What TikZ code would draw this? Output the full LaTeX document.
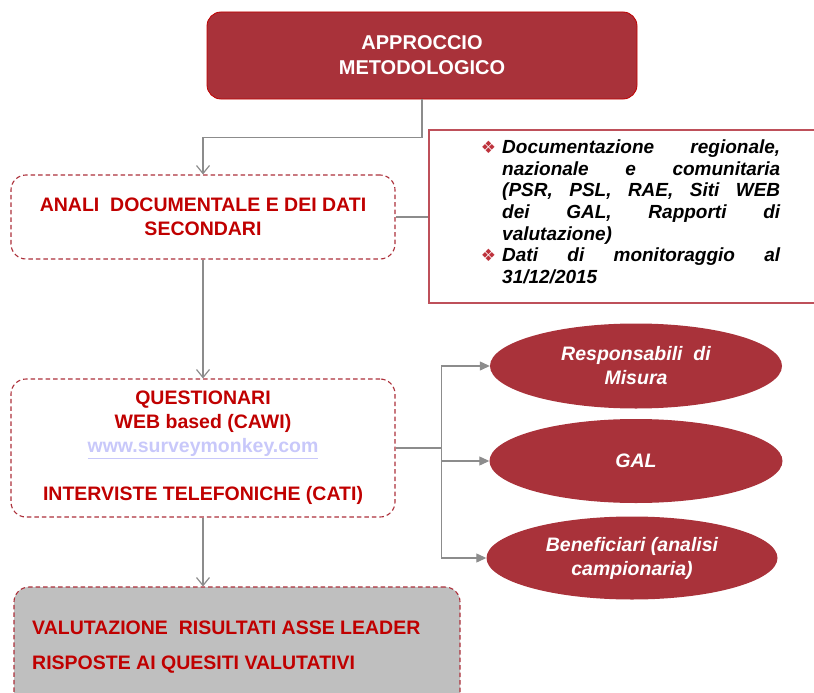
\documentclass[tikz,border=0pt]{standalone}
\usepackage{fontspec}
\setmainfont{Liberation Sans}
\newfontfamily\symfont{DejaVu Sans}
\usetikzlibrary{arrows.meta,shapes.geometric}

\definecolor{boxred}{RGB}{169,50,58}
\definecolor{edgered}{RGB}{192,0,0}
\definecolor{txtred}{RGB}{192,0,0}
\definecolor{dashred}{RGB}{172,48,58}
\definecolor{linkblue}{RGB}{200,200,250}
\definecolor{conn}{RGB}{140,140,140}
\definecolor{panelgray}{RGB}{191,191,191}
\definecolor{framered}{RGB}{190,80,90}
\definecolor{bulletred}{RGB}{190,50,60}

% a fully justified line of the source list
\newcommand{\jline}[1]{\makebox[278pt][s]{#1}}
% diamond bullet hanging to the left of the text column
\newcommand{\bul}{\llap{{\symfont\fontsize{17}{17}\selectfont\textcolor{bulletred}{❖}}\hspace{6pt}}}

\begin{document}
\begin{tikzpicture}[x=1pt,y=-1pt,
  every node/.style={inner sep=0pt},
  bigfont/.style={font=\bfseries\fontsize{19.5}{24}\selectfont},
  solidbox/.style={draw=edgered, line width=0.8pt, fill=boxred, rounded corners=14pt, text=white},
  dashbox/.style={draw=dashred, line width=1.1pt, dash pattern=on 4.5pt off 3pt, rounded corners=15pt},
  oval/.style={ellipse, fill=boxred, text=white, font=\bfseries\itshape\fontsize{19.5}{24}\selectfont, align=center},
  link/.style={draw=conn, line width=1.2pt},
  vhead/.style={-{Straight Barb[length=8pt,width=13pt]}},
  thead/.style={-{Triangle[length=10pt,width=9pt]}},
]
\useasboundingbox (0,0) rectangle (814,693);
\clip (0,0) rectangle (814,693);

% main boxes
\node[solidbox, minimum width=430pt, minimum height=87pt, align=center,
      font=\bfseries\fontsize{20}{25}\selectfont] (top) at (422,55.5) {APPROCCIO\\METODOLOGICO};

\node[dashbox, bigfont, text=txtred, minimum width=384pt, minimum height=84pt, align=center]
  (anal) at (203,217) {ANALI\ \ DOCUMENTALE E DEI DATI\\SECONDARI};

\node[dashbox, bigfont, text=txtred, minimum width=384pt, minimum height=138pt, align=center]
  (quest) at (203,448) {QUESTIONARI\\WEB based (CAWI)\\{\color{linkblue}\underline{www.surveymonkey.com}}\\[24pt]INTERVISTE TELEFONICHE (CATI)};

\node[dashbox, fill=panelgray, minimum width=446pt, minimum height=130pt] (valut) at (237,652) {};
\node[anchor=north west, align=left, text=txtred, font=\bfseries\fontsize{19.5}{35}\selectfont]
  (valtext) at (32,621) {VALUTAZIONE\ \ RISULTATI ASSE LEADER\\RISPOSTE AI QUESITI VALUTATIVI};

% sources panel
\node[draw=framered, line width=1.3pt, fill=white, minimum width=401pt, minimum height=173pt] (doc) at (629.5,216.5) {};
\node[anchor=north west, align=left, font=\bfseries\itshape\fontsize{19}{21.7}\selectfont]
  (doctext) at (502,139.5) {\bul\jline{Documentazione regionale,}\\\jline{nazionale e comunitaria}\\\jline{(PSR, PSL, RAE, Siti WEB}\\\jline{dei GAL, Rapporti di}\\valutazione)\\\bul\jline{Dati di monitoraggio al}\\31/12/2015};

% target groups
\node[oval, minimum width=292pt, minimum height=85pt] (resp) at (636,366) {Responsabili\ \ di\\Misura};
\node[oval, minimum width=293pt, minimum height=84pt] (gal) at (636,461) {GAL};
\node[oval, minimum width=291pt, minimum height=83pt] (benef) at (632,558) {Beneficiari (analisi\\campionaria)};

% connectors
\draw[link, vhead] (top.south) -- ++(0,38) -| (anal.north);
\draw[link] (anal.east) -- (anal.east -| doc.west);
\draw[link, vhead] (anal.south) -- (quest.north);
\draw[link, vhead] (quest.south) -- (quest.south |- valut.north);
\coordinate (fork) at ([xshift=46pt]quest.east);
\draw[link, line width=2pt] (quest.east) -- (fork);
\draw[link, thead] (fork) |- (resp.west);
\draw[link, thead] (fork) |- (gal.west);
\draw[link, thead] (fork) |- (benef.west);
\end{tikzpicture}
\end{document}
